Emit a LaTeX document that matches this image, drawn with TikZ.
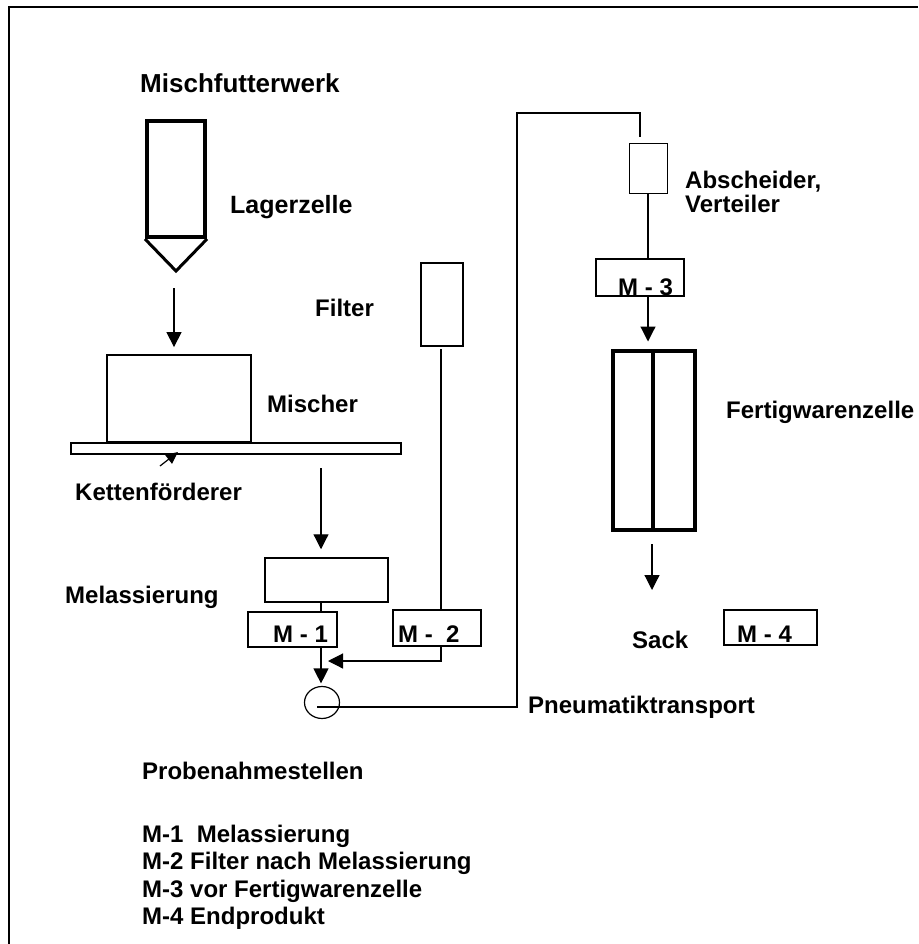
\documentclass[tikz,border=0pt]{standalone}
\usepackage{fontspec}
\setmainfont{Liberation Sans}
\usetikzlibrary{arrows.meta,shapes.geometric,calc}
\begin{document}
\begin{tikzpicture}[x=1pt,y=-1pt,
  lbl/.style={anchor=base west,inner sep=0pt,font=\fontsize{24}{28}\selectfont\bfseries},
  box/.style={draw,rectangle,inner sep=0pt,line width=#1},
  box/.default=1.5pt,
  conn/.style={line width=1.2pt},
  arr/.style={conn,-{Triangle[width=15pt,length=15pt]}},
  smallarr/.style={conn,-{Triangle[width=11pt,length=12pt]}},
]
\useasboundingbox (0,0) rectangle (918,944);
\fill[white] (0,0) rectangle (918,944);
% frame
\draw[line width=2pt] (9,944) -- (9,7) -- (918,7);

% silo
\node[box=4pt,minimum width=58pt,minimum height=116pt] (silo) at (176,179) {};
\coordinate (apex) at (176,271);
\draw[line width=3pt,line join=miter] (silo.south west) -- (apex) -- (silo.south east);

% mixer and conveyor
\node[box=1.8pt,minimum width=144pt,minimum height=87pt] (mischer) at (179,398.5) {};
\node[box=2pt,minimum width=330pt,minimum height=11pt] (conv) at (236,448.5) {};

% melassierung and sample points
\node[box=1.5pt,minimum width=123pt,minimum height=44pt] (mel) at (326.5,580) {};
\node[box=2.5pt,minimum width=89pt,minimum height=35pt] (m1) at (292.5,629.5) {};
\node[box=2.5pt,minimum width=88pt,minimum height=36pt] (m2) at (437,628) {};
\node[box=2pt,minimum width=42pt,minimum height=83pt] (filt) at (442,304.5) {};
\node[draw,ellipse,line width=1.2pt,inner sep=0pt,minimum width=35pt,minimum height=32pt] (circ) at (322,702.5) {};

% right side
\node[box=1.5pt,minimum width=38pt,minimum height=50pt] (absch) at (648.5,168.5) {};
\node[box=2.5pt,minimum width=88pt,minimum height=37pt] (m3) at (640,277.5) {};
\node[box=4pt,minimum width=82pt,minimum height=179pt] (fert) at (654,440.5) {};
\node[box=2pt,minimum width=93pt,minimum height=35pt] (m4) at (770.5,627.5) {};

% helper coordinates
\coordinate (vx) at (321,0);
\coordinate (fx) at (441,0);
\coordinate (ax) at (648,0);
\coordinate (dx) at (653,0);
\coordinate (ret) at (0,661);
\coordinate (p1) at (517,707);
\coordinate (p2) at (517,113);
\coordinate (p3) at (640,113);

% connectors
\draw[arr] ($(apex)+(-2,17)$) -- ($(apex |- mischer.north)+(-2,-7)$);
\draw[smallarr] ($(conv.south)+(-76,11)$) -- ($(conv.south)+(-58,-3)$);
\draw[arr,shorten >=8pt] ($(vx |- conv.south)+(0,13)$) -- (vx |- mel.north);
\draw[conn] (vx |- mel.south) -- (vx |- m1.north);
\draw[arr,shorten >=2.5pt] (vx |- m1.south) -- (vx |- circ.north);
\draw[conn,shorten <=2pt] (fx |- filt.south) -- (fx |- m2.north);
\draw[arr,shorten >=7pt] (fx |- m2.south) -- (fx |- ret) -- (vx |- ret);
\draw[conn,shorten >=6pt] ($(circ.center)+(-5,4.5)$) -- (p1) -- (p2) -- (p3) -- (p3 |- absch.north);
\draw[conn] (ax |- absch.south) -- (ax |- m3.north);
\draw[arr,shorten >=7.5pt] (ax |- m3.south) -- (ax |- fert.north);
\draw[line width=4pt] (dx |- fert.north) -- (dx |- fert.south);
\draw[arr] ($(fert.south)+(-2,12)$) -- ($(fert.south)+(-2,58)$);

% labels
\node[lbl,font=\fontsize{26}{30}\selectfont\bfseries] (t0) at (140,93) {Mischfutterwerk};
\node[lbl,font=\fontsize{25}{30}\selectfont\bfseries] (t1) at (230,213) {Lagerzelle};
\node[lbl] (t2) at (315,316) {Filter};
\node[lbl] (t3) at (267,412) {Mischer};
\node[lbl] (t4) at (75,500) {Kettenförderer};
\node[lbl] (t5) at (65,603) {Melassierung};
\node[lbl] (m1t) at (273,642) {M - 1};
\node[lbl] (m2t) at (398,642) {M -\ \ 2};
\node[lbl] (t6) at (528,713) {Pneumatiktransport};
\node[lbl] (t7) at (685,188) {Abscheider,};
\node[lbl] (t8) at (685,212) {Verteiler};
\node[lbl] (m3t) at (618,295) {M - 3};
\node[lbl] (t9) at (726,418) {Fertigwarenzelle};
\node[lbl] (t10) at (632,648) {Sack};
\node[lbl] (m4t) at (737,642) {M - 4};

% legend
\node[lbl] (l0) at (142,779) {Probenahmestellen};
\node[lbl] (l1) at (142,842) {M-1\ \ Melassierung};
\node[lbl] (l2) at (142,869.5) {M-2 Filter nach Melassierung};
\node[lbl] (l3) at (142,897) {M-3 vor Fertigwarenzelle};
\node[lbl] (l4) at (142,924.5) {M-4 Endprodukt};
\end{tikzpicture}
\end{document}
